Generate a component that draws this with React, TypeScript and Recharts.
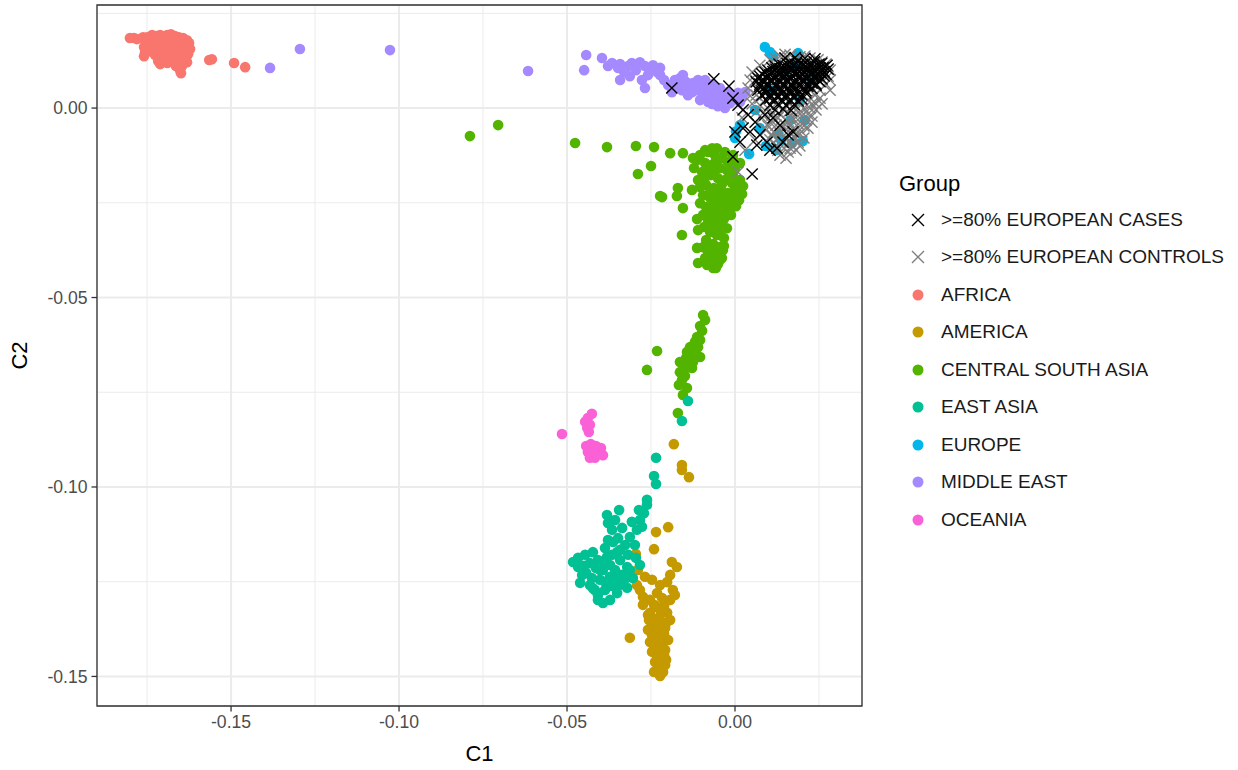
import {
  ScatterChart,
  Scatter,
  XAxis,
  YAxis,
  CartesianGrid,
  ReferenceArea,
} from 'recharts'

const FONT = '"Liberation Sans", Arial, Helvetica, sans-serif'

// axis ticks
const xMajor = [-0.15, -0.1, -0.05, 0]
const xMinor = [-0.175, -0.125, -0.075, -0.025, 0.025]
const yMajor = [-0.15, -0.1, -0.05, 0]
const yMinor = [-0.125, -0.075, -0.025, 0.025]
const xDomain = [-0.1899, 0.0378]
const yDomain = [-0.1578, 0.0272]

// point data, [C1, C2]
const africa = [
  [-0.1801, 0.0185], [-0.1789, 0.0185], [-0.178, 0.0182], [-0.1762, 0.0187], [-0.175, 0.0187],
  [-0.1735, 0.0193], [-0.1723, 0.019], [-0.1711, 0.0193], [-0.1702, 0.0187], [-0.169, 0.0193],
  [-0.1679, 0.0195], [-0.1667, 0.019], [-0.1655, 0.0187], [-0.1643, 0.0185], [-0.1631, 0.0179],
  [-0.1625, 0.0172], [-0.1753, 0.0174], [-0.1741, 0.0177], [-0.1726, 0.0179], [-0.1714, 0.0179],
  [-0.1699, 0.0179], [-0.1688, 0.0182], [-0.1676, 0.0179], [-0.1664, 0.0177], [-0.1649, 0.0174],
  [-0.1637, 0.0169], [-0.1759, 0.0161], [-0.1747, 0.0164], [-0.1732, 0.0166], [-0.172, 0.0166],
  [-0.1705, 0.0169], [-0.1694, 0.0169], [-0.1682, 0.0166], [-0.167, 0.0164], [-0.1658, 0.0161],
  [-0.1646, 0.0161], [-0.1634, 0.0158], [-0.1622, 0.0156], [-0.1756, 0.0148], [-0.1741, 0.015],
  [-0.1729, 0.0153], [-0.1717, 0.0153], [-0.1702, 0.0156], [-0.169, 0.0153], [-0.1679, 0.015],
  [-0.1667, 0.0148], [-0.1652, 0.0148], [-0.164, 0.0145], [-0.1628, 0.0142], [-0.1759, 0.0137],
  [-0.1726, 0.014], [-0.1711, 0.0137], [-0.1696, 0.0135], [-0.1682, 0.0135], [-0.1664, 0.0135],
  [-0.1649, 0.0132], [-0.1634, 0.0132], [-0.1717, 0.0124], [-0.1702, 0.0124], [-0.1676, 0.0124],
  [-0.1658, 0.0121], [-0.1643, 0.0121], [-0.1631, 0.0121], [-0.1711, 0.0116], [-0.169, 0.0119],
  [-0.1664, 0.0111], [-0.1646, 0.0111], [-0.1652, 0.01], [-0.1649, 0.0092], [-0.1565, 0.0127],
  [-0.1557, 0.0129], [-0.1491, 0.0119], [-0.1458, 0.0108],
]

const america = [
  [-0.0182, -0.0887], [-0.0158, -0.0942], [-0.0158, -0.0955], [-0.0137, -0.0974], [-0.0199, -0.1106],
  [-0.0235, -0.1119], [-0.0241, -0.1164], [-0.0295, -0.1177], [-0.0188, -0.1198], [-0.0173, -0.1211],
  [-0.0289, -0.1219], [-0.0268, -0.1237], [-0.0292, -0.1259], [-0.0202, -0.1251], [-0.0185, -0.1272],
  [-0.0232, -0.128], [-0.0274, -0.129], [-0.0253, -0.1298], [-0.0217, -0.1293], [-0.0193, -0.1298],
  [-0.0232, -0.1317], [-0.0259, -0.1338], [-0.0202, -0.1332], [-0.0223, -0.1351], [-0.0247, -0.1364],
  [-0.0208, -0.1372], [-0.0313, -0.1398], [-0.0238, -0.1383], [-0.0223, -0.1398], [-0.0199, -0.1404],
  [-0.0253, -0.1409], [-0.0229, -0.142], [-0.0208, -0.143], [-0.0247, -0.1435], [-0.0223, -0.1446],
  [-0.0205, -0.1456], [-0.0238, -0.1462], [-0.0217, -0.147], [-0.0232, -0.1483], [-0.0214, -0.1488],
  [-0.0223, -0.1499], [-0.0259, -0.1377], [-0.0193, -0.1351],
  [-0.0241, -0.1311], [-0.0211, -0.1314], [-0.0253, -0.1332], [-0.022, -0.1332], [-0.0235, -0.1348],
  [-0.0205, -0.1359], [-0.0256, -0.1351], [-0.0226, -0.1372], [-0.0247, -0.1391], [-0.0211, -0.1388],
  [-0.0232, -0.1404], [-0.0217, -0.1417], [-0.0241, -0.1425], [-0.0211, -0.1443], [-0.0232, -0.1451],
  [-0.0223, -0.1478], [-0.0241, -0.1488], [-0.0208, -0.147], [-0.0274, -0.1311], [-0.0283, -0.1272],
  [-0.0179, -0.1285], [-0.0223, -0.1259], [-0.0247, -0.1245], [-0.0193, -0.1232],
]

const centralSouthAsia = [
  [-0.0789, -0.0074], [-0.0705, -0.0045], [-0.0476, -0.0092], [-0.0381, -0.0103], [-0.0295, -0.01],
  [-0.0241, -0.0103], [-0.0193, -0.0119], [-0.0155, -0.0119], [-0.0125, -0.0132], [-0.0054, -0.0106],
  [-0.0289, -0.0174], [-0.025, -0.0153], [-0.0223, -0.0232], [-0.017, -0.0211], [-0.0173, -0.0232],
  [-0.0217, -0.0235], [-0.0155, -0.0264], [-0.0128, -0.0216], [-0.0104, -0.0208], [-0.0113, -0.0293],
  [-0.011, -0.0322], [-0.0158, -0.0335], [-0.0113, -0.0369], [-0.011, -0.0409], [-0.0057, -0.0422],
  [-0.0036, -0.0375], [0.0006, -0.0235], [-0.0006, -0.0172], [-0.0104, -0.0124], [-0.008, -0.0116],
  [-0.006, -0.0124], [-0.0039, -0.0132], [-0.0021, -0.0142], [-0.0089, -0.0145], [-0.0068, -0.015],
  [-0.0045, -0.0158], [-0.0024, -0.0164], [0.0, -0.0158], [-0.0098, -0.0169], [-0.0074, -0.0177],
  [-0.0051, -0.0185], [-0.003, -0.019], [-0.0009, -0.0198], [0.0009, -0.0206], [-0.0086, -0.0203],
  [-0.0063, -0.0211], [-0.0042, -0.0216], [-0.0021, -0.0224], [0.0, -0.0216], [-0.0095, -0.023],
  [-0.0074, -0.0237], [-0.0051, -0.0243], [-0.003, -0.0251], [-0.0009, -0.0256], [-0.0086, -0.0261],
  [-0.0065, -0.0269], [-0.0045, -0.0274], [-0.0021, -0.0282], [-0.008, -0.0296], [-0.006, -0.0301],
  [-0.0039, -0.0309], [-0.0074, -0.0327], [-0.0054, -0.0335], [-0.0033, -0.0343], [-0.0086, -0.0348],
  [-0.0065, -0.0359], [-0.0045, -0.0367], [-0.008, -0.038], [-0.006, -0.0391], [-0.0089, -0.0396],
  [-0.0068, -0.0406], [-0.0045, -0.0401], [0.0015, -0.019], [0.0021, -0.0227],
  [-0.0089, -0.0111], [-0.0068, -0.0106], [-0.003, -0.0116], [-0.0006, -0.0124], [-0.0113, -0.0137],
  [-0.0057, -0.014], [-0.0006, -0.0137], [0.0015, -0.0145], [-0.0122, -0.0158], [-0.008, -0.0161],
  [-0.0063, -0.0166], [-0.0012, -0.0179], [-0.011, -0.019], [-0.0092, -0.0185], [-0.0039, -0.0201],
  [0.0, -0.0187], [0.0024, -0.0206], [-0.0074, -0.0222], [-0.0054, -0.0227], [-0.003, -0.0232],
  [-0.0009, -0.0235], [0.0012, -0.0243], [-0.0104, -0.0251], [-0.0063, -0.0253], [-0.0042, -0.0259],
  [-0.0018, -0.0264], [0.0003, -0.0259], [-0.0095, -0.0282], [-0.0074, -0.0285], [-0.0054, -0.0288],
  [-0.0033, -0.0293], [-0.0012, -0.0282], [-0.0092, -0.0314], [-0.0065, -0.0317], [-0.0045, -0.0322],
  [-0.0024, -0.0317], [-0.0095, -0.0367], [-0.0074, -0.0372], [-0.0054, -0.0375], [-0.0033, -0.0364],
  [-0.0083, -0.0414], [-0.0065, -0.0422], [-0.0051, -0.0412], [-0.0039, -0.0396],
  [-0.0095, -0.0546], [-0.0104, -0.0575], [-0.0113, -0.0604], [-0.011, -0.0631], [-0.0143, -0.0644],
  [-0.0232, -0.0641], [-0.0262, -0.0691], [-0.0164, -0.067], [-0.0134, -0.066], [-0.0104, -0.0657],
  [-0.0128, -0.0686], [-0.0164, -0.0697], [-0.0149, -0.0707], [-0.0158, -0.0718], [-0.0143, -0.0739],
  [-0.017, -0.0805], [-0.0119, -0.0617], [-0.0134, -0.0631], [-0.0152, -0.0678],
  [-0.0089, -0.0559], [-0.0098, -0.0588], [-0.0104, -0.0612], [-0.0122, -0.0644], [-0.0146, -0.066],
  [-0.014, -0.0675], [-0.0125, -0.067], [-0.0152, -0.0691], [-0.0167, -0.0731], [-0.0155, -0.0757],
]

const eastAsia = [
  [-0.014, -0.0773], [-0.0158, -0.0826], [-0.0235, -0.0923], [-0.0241, -0.0971], [-0.0235, -0.0992],
  [-0.0262, -0.1034], [-0.0262, -0.1047], [-0.0271, -0.1069], [-0.0283, -0.1087], [-0.0345, -0.1061],
  [-0.0381, -0.1074], [-0.0378, -0.1095], [-0.0366, -0.1113], [-0.0292, -0.1113], [-0.0313, -0.1132],
  [-0.0327, -0.1153], [-0.0363, -0.1145], [-0.0387, -0.1161], [-0.0423, -0.1172], [-0.0446, -0.1179],
  [-0.0467, -0.1187], [-0.0482, -0.1198], [-0.0467, -0.1211], [-0.0455, -0.1232], [-0.0432, -0.1201],
  [-0.0408, -0.1193], [-0.0393, -0.1219], [-0.0372, -0.1206], [-0.0342, -0.1193], [-0.0321, -0.1211],
  [-0.0304, -0.124], [-0.0321, -0.1266], [-0.0351, -0.128], [-0.0372, -0.1298], [-0.0393, -0.1306],
  [-0.0417, -0.1272], [-0.0402, -0.1245], [-0.0372, -0.1237], [-0.0426, -0.124], [-0.0408, -0.1285],
  [-0.0387, -0.1272], [-0.0351, -0.1245], [-0.0336, -0.1232], [-0.0432, -0.1259], [-0.0366, -0.1179],
  [-0.0342, -0.1166], [-0.0402, -0.1219], [-0.0449, -0.1208], [-0.0286, -0.1061],
  [-0.0357, -0.1087], [-0.0336, -0.1108], [-0.0348, -0.1135], [-0.0378, -0.114], [-0.0307, -0.1092],
  [-0.0277, -0.1105], [-0.0298, -0.1153], [-0.0318, -0.1179], [-0.0351, -0.1172], [-0.0381, -0.1185],
  [-0.0414, -0.1214], [-0.0443, -0.1227], [-0.0387, -0.125], [-0.0366, -0.1261], [-0.0342, -0.1258],
  [-0.0324, -0.124], [-0.0408, -0.1298], [-0.0423, -0.1267], [-0.0357, -0.1219], [-0.0313, -0.1219],
  [-0.0283, -0.1206], [-0.0295, -0.1187], [-0.0461, -0.1253], [-0.0393, -0.1201],
]

const europe = [
  [0.0089, 0.0161], [0.0104, 0.0148], [0.0113, 0.0137], [0.0188, 0.0145], [0.0015, -0.0045],
  [0.0003, -0.0061], [0.0, -0.0079], [0.0042, -0.0121], [0.0092, -0.01], [0.0122, -0.0111],
  [0.0137, -0.0084], [0.017, -0.0092], [0.0202, -0.0087], [0.0074, -0.0053], [0.0128, -0.0069],
  [0.0164, -0.0032], [0.0193, 0.0021], [0.0104, 0.0047], [0.0149, 0.0087], [0.0179, 0.0113],
  [0.0223, 0.0074], [0.0208, -0.0032], [0.006, -0.0005],
]

const middleEast = [
  [-0.1384, 0.0106], [-0.1295, 0.0156], [-0.1027, 0.0153], [-0.0616, 0.0098], [-0.0443, 0.014],
  [-0.0449, 0.01], [-0.0396, 0.0132], [-0.0366, 0.0119], [-0.0348, 0.0106], [-0.033, 0.0095],
  [-0.0342, 0.0074], [-0.0318, 0.0111], [-0.0307, 0.0119], [-0.0295, 0.01], [-0.0283, 0.0121],
  [-0.0313, 0.0084], [-0.0268, 0.0111], [-0.0259, 0.0087], [-0.0268, 0.0053], [-0.0244, 0.0113],
  [-0.0232, 0.0095], [-0.0223, 0.0087], [-0.0211, 0.0074], [-0.0199, 0.0061], [-0.0188, 0.0042],
  [-0.0179, 0.0074], [-0.0164, 0.0079], [-0.0155, 0.0087], [-0.0146, 0.0069], [-0.0134, 0.0058],
  [-0.0125, 0.0066], [-0.0116, 0.0047], [-0.0104, 0.0053], [-0.0095, 0.0037], [-0.0086, 0.0042],
  [-0.0074, 0.0029], [-0.0065, 0.004], [-0.0057, 0.0021], [-0.0045, 0.0032], [-0.0036, 0.0016],
  [-0.0024, 0.0026], [-0.0015, 0.0013], [-0.0006, 0.0021], [-0.0051, 0.0047], [-0.008, 0.0061],
  [-0.011, 0.0074], [-0.014, 0.0034], [-0.0104, 0.0021], [-0.0068, 0.0011], [-0.003, 0.0],
  [0.0021, 0.0029], [0.0009, 0.004],
  [-0.0089, 0.0074], [-0.0068, 0.0063], [-0.0045, 0.0053], [-0.0021, 0.0042], [0.0, 0.0034],
  [-0.0128, 0.0042], [-0.0098, 0.0026], [-0.006, 0.0034], [-0.003, 0.0011], [-0.0051, 0.0005],
  [-0.008, 0.0016], [-0.017, 0.0061], [-0.0158, 0.0047], [-0.0223, 0.0106], [-0.0253, 0.01],
  [-0.0342, 0.0116], [-0.0378, 0.0111], [-0.0277, 0.0074], [0.0015, 0.0016], [0.003, 0.0042],
]

const oceania = [
  [-0.0515, -0.086], [-0.0426, -0.0807], [-0.0438, -0.0818], [-0.0446, -0.0828], [-0.044, -0.0844],
  [-0.0432, -0.0836], [-0.0435, -0.0855], [-0.0443, -0.0892], [-0.0429, -0.0887], [-0.0414, -0.0892],
  [-0.0399, -0.0897], [-0.0438, -0.0908], [-0.0423, -0.091], [-0.0408, -0.0902], [-0.0393, -0.0916],
  [-0.0432, -0.0923], [-0.0417, -0.0923],
]

const euroControls = [
  [0.0104, 0.0127], [0.0134, 0.0137], [0.0164, 0.014], [0.0193, 0.0135], [0.0223, 0.0132],
  [0.0247, 0.0127], [0.0271, 0.0116], [0.0283, 0.01], [0.0074, 0.0113], [0.0051, 0.0095],
  [0.0045, 0.0074], [0.0039, 0.0053], [0.0045, 0.0032], [0.0051, 0.0011], [0.0063, -0.0011],
  [0.0074, 0.0008], [0.0098, 0.0], [0.0122, 0.0011], [0.0146, -0.0005], [0.017, 0.0005],
  [0.0193, 0.0011], [0.0217, 0.0021], [0.0238, 0.0034], [0.0253, 0.0047], [0.0271, 0.0063],
  [0.0277, 0.0084], [0.008, -0.0026], [0.0104, -0.0037], [0.0128, -0.0026], [0.0152, -0.0032],
  [0.0176, -0.0021], [0.0199, -0.0011], [0.0223, 0.0], [0.0241, 0.0011], [0.0092, -0.0058],
  [0.0116, -0.0063], [0.014, -0.0053], [0.0164, -0.0047], [0.0188, -0.0042], [0.0211, -0.0032],
  [0.0229, -0.0021], [0.0104, -0.0084], [0.0128, -0.0079], [0.0152, -0.0079], [0.0176, -0.0074],
  [0.0199, -0.0063], [0.0217, -0.0053], [0.0122, -0.01], [0.0146, -0.0106], [0.017, -0.01],
  [0.0188, -0.009], [0.0205, -0.0079], [0.0134, -0.0124], [0.0158, -0.0116], [0.0182, -0.0111],
  [0.0152, -0.0132], [0.0009, -0.0169], [0.003, -0.0111], [0.006, -0.0084], [0.0021, -0.0026],
  [0.0164, 0.0074], [0.0193, 0.0087], [0.0223, 0.0061], [0.0134, 0.0047], [0.0179, 0.0034],
  [0.0086, -0.0011], [0.011, -0.0018], [0.0134, -0.0016], [0.0158, -0.0011], [0.0182, -0.0005],
  [0.0205, 0.0], [0.0229, 0.0011], [0.0253, 0.0026], [0.0098, -0.0047], [0.0122, -0.0045],
  [0.0146, -0.0042], [0.017, -0.0034], [0.0193, -0.0026], [0.0217, -0.0016], [0.0241, -0.0005],
  [0.0259, 0.0011], [0.011, -0.0071], [0.0134, -0.0066], [0.0158, -0.0061], [0.0182, -0.0058],
  [0.0205, -0.0047], [0.0229, -0.0037], [0.0116, -0.0092], [0.014, -0.009], [0.0164, -0.0087],
  [0.0188, -0.0071], [0.0128, -0.0111], [0.0164, -0.0106], [0.0193, -0.01], [0.0063, 0.0034],
  [0.0068, 0.0053], [0.0074, 0.0026], [0.006, 0.0074], [0.0119, 0.0132], [0.0149, 0.0142],
  [0.0208, 0.0137], [0.0259, 0.0121], [0.0283, 0.0074], [0.0283, 0.0047],
]

const euroCases = [
  [0.0164, 0.0121], [0.0186, 0.0124], [0.0211, 0.0119], [0.0236, 0.0122], [0.0258, 0.0118],
  [0.0119, 0.0111], [0.0143, 0.0113], [0.0167, 0.0109], [0.019, 0.0112], [0.0214, 0.0108],
  [0.0238, 0.0111], [0.0262, 0.0107], [0.0098, 0.01], [0.0122, 0.0102], [0.0146, 0.0098],
  [0.017, 0.0101], [0.0193, 0.0097], [0.0217, 0.01], [0.0241, 0.0098], [0.0265, 0.0096],
  [0.008, 0.009], [0.0104, 0.0088], [0.0128, 0.0091], [0.0152, 0.0089], [0.0176, 0.0092],
  [0.0199, 0.0088], [0.0223, 0.009], [0.0247, 0.0087], [0.0271, 0.0089], [0.0068, 0.0079],
  [0.0092, 0.0081], [0.0116, 0.0078], [0.014, 0.008], [0.0164, 0.0077], [0.0188, 0.008],
  [0.0211, 0.0078], [0.0235, 0.0081], [0.0259, 0.0077], [0.0063, 0.0069], [0.0086, 0.0067],
  [0.011, 0.007], [0.0134, 0.0068], [0.0158, 0.007], [0.0182, 0.0067], [0.0205, 0.0069],
  [0.0229, 0.0066], [0.0253, 0.007], [0.0074, 0.0058], [0.0098, 0.006], [0.0122, 0.0057],
  [0.0146, 0.0059], [0.017, 0.0056], [0.0193, 0.0059], [0.0217, 0.0057], [0.0241, 0.006],
  [0.0068, 0.0047], [0.0092, 0.0049], [0.0116, 0.0046], [0.014, 0.0048], [0.0164, 0.0045],
  [0.0188, 0.0048], [0.0211, 0.0046], [0.008, 0.0034], [0.0104, 0.0036], [0.0128, 0.0033],
  [0.0152, 0.0035], [0.0176, 0.0032], [0.0199, 0.0035], [0.0092, 0.0021], [0.0116, 0.0023],
  [0.014, 0.002], [0.0164, 0.0022], [0.0188, 0.0019], [0.0104, 0.0008], [0.0128, 0.001],
  [0.0152, 0.0007], [0.0176, 0.0009], [0.0119, -0.0005], [0.0143, -0.0003], [0.0167, -0.0006],
  [0.0131, 0.0116], [0.0155, 0.0117], [0.0179, 0.0115], [0.0202, 0.0116], [0.0226, 0.0114],
  [0.025, 0.0116], [0.0274, 0.0113], [0.011, 0.0106], [0.0134, 0.0104], [0.0158, 0.0107],
  [0.0182, 0.0105], [0.0205, 0.0106], [0.0229, 0.0104], [0.0253, 0.0106], [0.0277, 0.0103],
  [0.0089, 0.0095], [0.0113, 0.0096], [0.0137, 0.0094], [0.0161, 0.0095], [0.0185, 0.0093],
  [0.0208, 0.0095], [0.0232, 0.0094], [0.0256, 0.0095], [0.0074, 0.0084], [0.0098, 0.0085],
  [0.0122, 0.0083], [0.0146, 0.0084], [0.017, 0.0086], [0.0193, 0.0083], [0.0217, 0.0084],
  [0.0241, 0.0083], [0.0265, 0.0085], [0.008, 0.0074], [0.0104, 0.0073], [0.0128, 0.0075],
  [0.0152, 0.0074], [0.0176, 0.0072], [0.0199, 0.0074], [0.0223, 0.0073], [0.0247, 0.0075],
  [0.0074, 0.0063], [0.0098, 0.0064], [0.0122, 0.0062], [0.0146, 0.0063], [0.017, 0.0061],
  [0.0193, 0.0064], [0.0217, 0.0062], [0.0241, 0.0064], [0.0086, 0.0053], [0.011, 0.0052],
  [0.0134, 0.0054], [0.0158, 0.0053], [0.0182, 0.0051], [0.0205, 0.0053], [0.0229, 0.0052],
  [0.0092, 0.004], [0.0116, 0.0041], [0.014, 0.0039], [0.0164, 0.004], [0.0188, 0.0038],
  [0.0211, 0.004], [0.0104, 0.0026], [0.0128, 0.0027], [0.0152, 0.0025], [0.0176, 0.0026],
  [0.0199, 0.0024], [0.0149, 0.0132], [0.0179, 0.0133], [0.0208, 0.0131], [0.0238, 0.013],
  [-0.0188, 0.0053], [-0.0063, 0.0077], [-0.0018, 0.0058], [-0.0006, 0.0026], [0.0009, 0.0008],
  [0.0024, -0.0005], [0.0039, -0.0018], [0.0, -0.0063], [0.0024, -0.0053], [0.0045, -0.0063],
  [0.0074, -0.0071], [0.0015, -0.009], [0.0065, -0.0098], [0.0095, -0.009], [0.0104, -0.0111],
  [0.0125, -0.0106], [0.0143, -0.009], [0.0158, -0.0071], [0.0173, -0.0063], [-0.0006, -0.0129],
  [0.0051, -0.0174], [0.0134, -0.0045], [0.0113, -0.0026], [0.006, -0.0037], [0.0089, -0.0018],
]

type Group = { name: string; color: string; shape: 'dot' | 'cross'; points: number[][] }

// legend order
const groups: Group[] = [
  { name: '>=80% EUROPEAN CASES', color: '#000000', shape: 'cross', points: euroCases },
  { name: '>=80% EUROPEAN CONTROLS', color: '#7f7f7f', shape: 'cross', points: euroControls },
  { name: 'AFRICA', color: '#F8766D', shape: 'dot', points: africa },
  { name: 'AMERICA', color: '#C49A00', shape: 'dot', points: america },
  { name: 'CENTRAL SOUTH ASIA', color: '#53B400', shape: 'dot', points: centralSouthAsia },
  { name: 'EAST ASIA', color: '#00C094', shape: 'dot', points: eastAsia },
  { name: 'EUROPE', color: '#00B6EB', shape: 'dot', points: europe },
  { name: 'MIDDLE EAST', color: '#A58AFF', shape: 'dot', points: middleEast },
  { name: 'OCEANIA', color: '#FB61D7', shape: 'dot', points: oceania },
]

// draw dots first, crosses on top (controls then cases)
const drawOrder = [...groups.slice(2), groups[1], groups[0]]

const dotShape = (color: string) => (props: any) => (
  <circle cx={props.cx} cy={props.cy} r={5.3} fill={color} />
)

const crossShape = (color: string) => (props: any) => {
  const { cx, cy } = props
  const h = 5.6
  return (
    <path
      d={`M${cx - h},${cy - h}L${cx + h},${cy + h}M${cx - h},${cy + h}L${cx + h},${cy - h}`}
      stroke={color}
      strokeWidth={1.4}
      fill="none"
    />
  )
}

function GroupLegend() {
  return (
    <div style={{ position: 'absolute', left: 899, top: 169, fontFamily: FONT }}>
      <div style={{ fontSize: 22, lineHeight: '30px', color: '#000', height: 32 }}>Group</div>
      {groups.map((g) => (
        <div key={g.name} style={{ display: 'flex', alignItems: 'center', height: 37.5, marginTop: 0 }}>
          <svg width={38} height={20}>
            {g.shape === 'cross' ? (
              <path d="M13,4L25,16M13,16L25,4" stroke={g.color} strokeWidth={1.4} fill="none" />
            ) : (
              <circle cx={19} cy={10} r={5.5} fill={g.color} />
            )}
          </svg>
          <span style={{ fontSize: 19, color: '#1a1a1a', marginLeft: 4, whiteSpace: 'nowrap' }}>{g.name}</span>
        </div>
      ))}
    </div>
  )
}

const tickStyle = { fill: '#4d4d4d', fontSize: 17.6, fontFamily: FONT }

export default function App() {
  return (
    <div style={{ position: 'absolute', left: 0, top: 0, width: 1238, height: 770, background: '#fff' }}>
      <ScatterChart
        width={1238}
        height={770}
        margin={{ top: 5, right: 376, bottom: 16, left: 10 }}
      >
        <XAxis xAxisId="minor" type="number" dataKey="x" domain={xDomain} ticks={xMinor} allowDataOverflow hide />
        <YAxis yAxisId="minor" type="number" dataKey="y" domain={yDomain} ticks={yMinor} allowDataOverflow hide />
        <CartesianGrid xAxisId="minor" yAxisId="minor" stroke="#ebebeb" strokeWidth={1} />
        <CartesianGrid stroke="#ebebeb" strokeWidth={2} />
        <XAxis
          type="number"
          dataKey="x"
          domain={xDomain}
          ticks={xMajor}
          allowDataOverflow
          tickFormatter={(v: number) => v.toFixed(2)}
          tick={tickStyle}
          tickLine={{ stroke: '#333333', strokeWidth: 1.3 }}
          tickSize={5.5}
          tickMargin={4}
          axisLine={false}
          height={48}
          label={{ value: 'C1', position: 'insideBottom', offset: -7, style: { fontSize: 22, fill: '#000', fontFamily: FONT } }}
        />
        <YAxis
          type="number"
          dataKey="y"
          domain={yDomain}
          ticks={yMajor}
          allowDataOverflow
          tickFormatter={(v: number) => v.toFixed(2)}
          tick={tickStyle}
          tickLine={{ stroke: '#333333', strokeWidth: 1.3 }}
          tickSize={5.5}
          tickMargin={4}
          axisLine={false}
          width={87}
          label={{ value: 'C2', angle: -90, position: 'insideLeft', offset: 9, style: { fontSize: 22, fill: '#000', fontFamily: FONT, textAnchor: 'middle' } }}
        />
        {drawOrder.map((g) => (
          <Scatter
            key={g.name}
            name={g.name}
            data={g.points.map(([x, y]) => ({ x, y }))}
            fill={g.color}
            shape={g.shape === 'cross' ? crossShape(g.color) : dotShape(g.color)}
            isAnimationActive={false}
          />
        ))}
        <ReferenceArea
          x1={xDomain[0]}
          x2={xDomain[1]}
          y1={yDomain[0]}
          y2={yDomain[1]}
          fill="none"
          stroke="#333333"
          strokeWidth={1.3}
          ifOverflow="visible"
        />
      </ScatterChart>
      <GroupLegend />
    </div>
  )
}
